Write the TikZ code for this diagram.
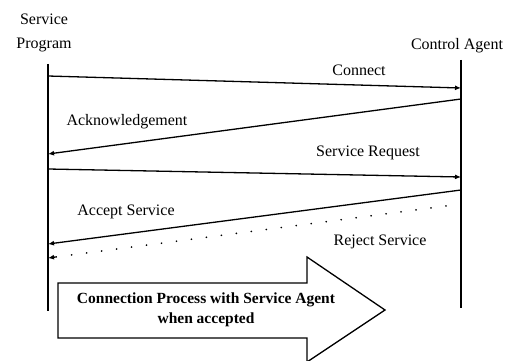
\documentclass[tikz,border=0pt]{standalone}
\usepackage{fontspec}
\setmainfont{Liberation Serif}
\usetikzlibrary{arrows.meta,calc}
\begin{document}
\begin{tikzpicture}[x=1pt,y=-1pt,
  lbl/.style={inner sep=0pt,font=\fontsize{16}{18}\selectfont},
  life/.style={line width=1.8pt},
  msg/.style={line width=1.3pt,-{Latex[length=6pt,width=5pt]}},
  dline/.style={line width=1.8pt,line cap=round,dash pattern=on 0.1pt off 15pt},
  bigarrow/.style={draw,line width=1.3pt,fill=white}]
\useasboundingbox (0,0) rectangle (525,361);
% headers
\node[lbl] (sp) at (44,45) {Program};
\node[lbl] (sv) at (44,19) {Service};
\node[lbl] (ca) at (457,46) {Control Agent};
% lifelines
\coordinate (Ltop) at (48,64);
\coordinate (Lbot) at (48,311);
\coordinate (Rtop) at (461,60);
\coordinate (Rbot) at (461,308);
\draw[life] (Ltop) -- (Lbot);
\draw[life] (Rtop) -- (Rbot);
% message endpoints
\coordinate (c1) at (48,76);  \coordinate (c2) at (461,88);
\coordinate (a1) at (461,99); \coordinate (a2) at (48,154);
\coordinate (s1) at (48,169); \coordinate (s2) at (461,177);
\coordinate (p1) at (461,190); \coordinate (p2) at (48,244);
\coordinate (r1) at (461,204); \coordinate (r2) at (48,258);
\coordinate (r3) at ($(r2)!9pt!(r1)$);
\draw[msg] (c1) -- (c2);
\draw[msg] (a1) -- (a2);
\draw[msg] (s1) -- (s2);
\draw[msg] (p1) -- (p2);
\draw[dline] (r1) -- (r3);
\draw[msg] (r3) -- (r2);
% labels
\node[lbl] (lc) at (359,70) {Connect};
\node[lbl] (la) at (127,122) {Acknowledgement};
\node[lbl] (ls) at (368,153) {Service Request};
\node[lbl] (lp) at (126,212) {Accept Service};
\node[lbl] (lr) at (380,242) {Reject Service};
% big arrow
\draw[bigarrow] (58,283) -- (307,283) -- (307,257) -- (385,310) -- (307,362) -- (307,338) -- (58,338) -- cycle;
\node[inner sep=0pt,align=center,font=\bfseries\fontsize{15.5}{20}\selectfont] (bt) at (206,310) {Connection Process with Service Agent\\ when accepted};
\end{tikzpicture}
\end{document}
